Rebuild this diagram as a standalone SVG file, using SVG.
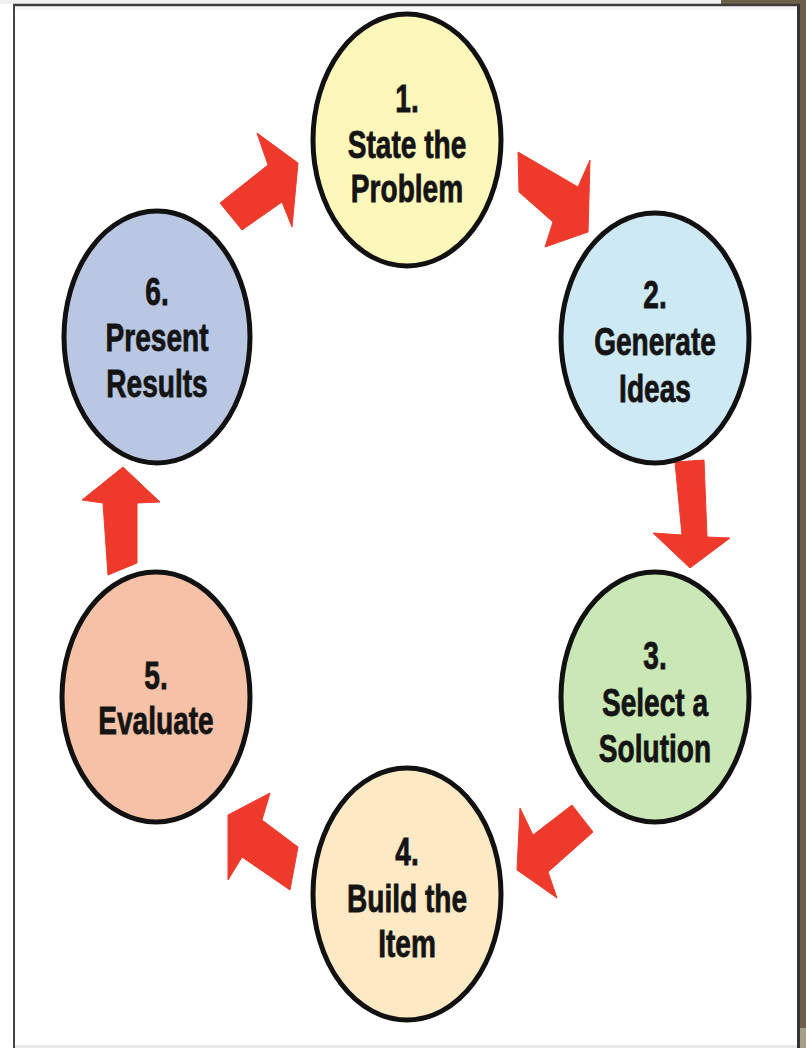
<svg xmlns="http://www.w3.org/2000/svg" width="806" height="1048" viewBox="0 0 806 1048">
  <style>
    .step { stroke: #111; stroke-width: 5; }
    .label { font-family: "Liberation Sans", Arial, sans-serif; font-weight: bold; font-size: 39px; fill: #141414; stroke: #141414; stroke-width: 0.8; text-anchor: middle; }
    .arrow { fill: #ee3a2b; stroke: #ee3a2b; stroke-width: 1; stroke-linejoin: round; }
  </style>

  <!-- page and frame -->
  <rect x="0" y="0" width="806" height="1048" fill="#ffffff"/>
  <rect x="0" y="0" width="721" height="4" fill="#f0f0f0"/>
  <rect x="721" y="0" width="85" height="4" fill="#6c6048"/>
  <rect x="800" y="0" width="6" height="1048" fill="#6c6048"/>
  <rect x="800" y="1028" width="6" height="20" fill="#a69e88"/>
  <line x1="13" y1="5" x2="800" y2="5" stroke="#3c3c3c" stroke-width="2.5"/>
  <line x1="14" y1="4" x2="14" y2="1048" stroke="#444" stroke-width="2"/>
  <line x1="798.5" y1="4" x2="798.5" y2="1048" stroke="#333" stroke-width="3"/>
  <rect x="15" y="7" width="782" height="3" fill="#f6f6f6"/>
  <rect x="15" y="1045" width="782" height="3" fill="#e9e9e9"/>

  <!-- connectors -->
  <g id="connectors">
    <!-- 1 to 2 -->
    <polygon class="arrow" points="518,152 578,187 590,160 588,232 545,247 553,222 519,192"/>
    <!-- 2 to 3 -->
    <polygon class="arrow" points="675,462 704,460 707,537 730,538 690,568 653,533 682,535"/>
    <!-- 3 to 4 -->
    <polygon class="arrow" points="520,808 533,835 572,805 593,832 548,872 557,898 517,870"/>
    <!-- 4 to 5 -->
    <polygon class="arrow" points="270,793 262,820 298,847 290,890 242,857 228,880 228,815"/>
    <!-- 5 to 6 -->
    <polygon class="arrow" points="123,467 160,502 137,503 137,563 108,575 103,503 82,500"/>
    <!-- 6 to 1 -->
    <polygon class="arrow" points="257,133 298,163 292,227 282,202 242,230 220,203 268,165"/>
  </g>

  <!-- steps -->
  <g id="step1">
    <ellipse class="step" cx="407" cy="140" rx="94" ry="126" fill="#fdf8ba"/>
    <g transform="translate(407 140) scale(0.72 1)">
      <text class="label" x="0" y="-28">1.</text>
      <text class="label" x="0" y="18">State the</text>
      <text class="label" x="0" y="62">Problem</text>
    </g>
  </g>

  <g id="step2">
    <ellipse class="step" cx="655" cy="338" rx="94" ry="125" fill="#cde9f3"/>
    <g transform="translate(655 338) scale(0.72 1)">
      <text class="label" x="0" y="-30">2.</text>
      <text class="label" x="0" y="17">Generate</text>
      <text class="label" x="0" y="64">Ideas</text>
    </g>
  </g>

  <g id="step3">
    <ellipse class="step" cx="655" cy="697" rx="94" ry="125" fill="#c9e8b6"/>
    <g transform="translate(655 697) scale(0.72 1)">
      <text class="label" x="0" y="-28">3.</text>
      <text class="label" x="0" y="19">Select a</text>
      <text class="label" x="0" y="65">Solution</text>
    </g>
  </g>

  <g id="step4">
    <ellipse class="step" cx="407" cy="894" rx="94" ry="126" fill="#fdeac5"/>
    <g transform="translate(407 894) scale(0.72 1)">
      <text class="label" x="0" y="-29">4.</text>
      <text class="label" x="0" y="18">Build the</text>
      <text class="label" x="0" y="63">Item</text>
    </g>
  </g>

  <g id="step5">
    <ellipse class="step" cx="156" cy="697" rx="94" ry="125" fill="#f5c1a7"/>
    <g transform="translate(156 697) scale(0.72 1)">
      <text class="label" x="0" y="-8">5.</text>
      <text class="label" x="0" y="37">Evaluate</text>
    </g>
  </g>

  <g id="step6">
    <ellipse class="step" cx="157" cy="337" rx="93" ry="126" fill="#b9c7e2"/>
    <g transform="translate(157 337) scale(0.72 1)">
      <text class="label" x="0" y="-32">6.</text>
      <text class="label" x="0" y="14">Present</text>
      <text class="label" x="0" y="60">Results</text>
    </g>
  </g>
</svg>
